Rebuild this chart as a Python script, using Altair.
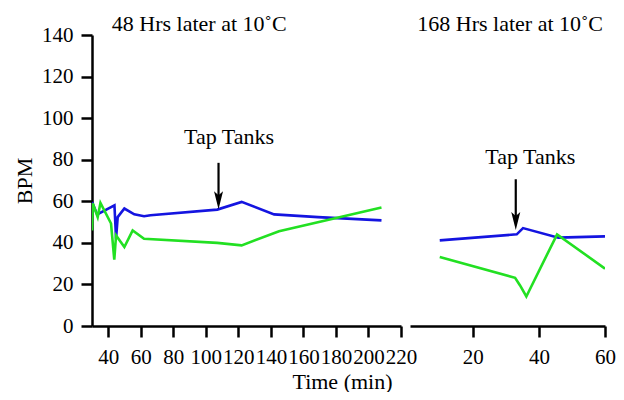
import altair as alt
import pandas as pd

# ---- data ----
left_time_blue = [30, 33.2, 43.8, 44.8, 45.8, 49.9, 56, 62, 66, 107, 122, 142, 169, 208]
left_bpm_blue = [59.7, 53.7, 58, 42, 52.4, 56.5, 53.7, 52.8, 53.3, 56, 59.7, 53.7, 52.4, 50.8]
left_time_green = [30, 30.5, 33.5, 35.2, 41.7, 43.7, 44.8, 49.9, 55, 62, 107, 122, 145, 208]
left_bpm_green = [46, 59, 52.4, 59.2, 49.3, 31.9, 43.6, 38, 46, 42, 40, 38.8, 45.6, 57]

right_time_blue = [10, 33.3, 35.2, 45.9, 60]
right_bpm_blue = [41.2, 44.1, 47.1, 42.5, 43.1]
right_time_green = [10, 32.8, 34.3, 36.2, 45.5, 60]
right_bpm_green = [33.2, 23.2, 19.5, 14.2, 44.1, 27.6]

left_ticks = [40, 60, 80, 100, 120, 140, 160, 180, 200, 220]
right_ticks = [20, 40, 60]
y_ticks = [0, 20, 40, 60, 80, 100, 120, 140]

titles = ["48 Hrs later at 10˚C", "168 Hrs later at 10˚C"]
# title anchor (time, bpm) in each panel's own scale
title_pos = [[42.2, 142.0], [3.2, 142.0]]
annotation = "Tap Tanks"
# arrow: time, top bpm, head bpm, text time, text bpm
left_arrow = [107.8, 78.5, 60.5, 114.3, 87.4]
right_arrow = [33.0, 70.6, 50.5, 37.4, 77.8]

FONT = "Liberation Serif"
BLUE = "#1414e0"
GREEN = "#22e022"
ARROW_SHAPE = "M -0.5 -1 L 0 1 L 0.5 -1 L 0 -0.55 Z"


def series_df(tb, bb, tg, bg):
    rows = [{"time": t, "bpm": b, "series": "blue"} for t, b in zip(tb, bb)]
    rows += [{"time": t, "bpm": b, "series": "green"} for t, b in zip(tg, bg)]
    return pd.DataFrame(rows)


left_df = series_df(left_time_blue, left_bpm_blue, left_time_green, left_bpm_green)
right_df = series_df(right_time_blue, right_bpm_blue, right_time_green, right_bpm_green)

y_scale = alt.Scale(domain=[0, 140], nice=False, zero=False)
color_scale = alt.Scale(domain=["blue", "green"], range=[BLUE, GREEN])

H = 291


def panel(df, xdomain, xticks, arrow, title, tpos, width, show_y):
    xs = alt.Scale(domain=xdomain, nice=False, zero=False)
    if show_y:
        yax = alt.Axis(values=y_ticks, title="BPM", titleFont=FONT, titleFontSize=22,
                       titleFontWeight="normal", titleColor="black", titleAngle=-90,
                       titleX=-68, titleY=H / 2, titleAlign="center", titleBaseline="middle",
                       labelPadding=8, labelOverlap=False)
        xax = alt.Axis(values=xticks, title="Time (min)", titleFont=FONT, titleFontSize=22,
                       titleFontWeight="normal", titleColor="black", titleX=250,
                       titleY=62, titleAlign="center", titleBaseline="alphabetic",
                       labelPadding=9, labelFlush=False, labelOverlap=False)
    else:
        yax = None
        xax = alt.Axis(values=xticks, title=None, labelPadding=9, labelFlush=False,
                       labelOverlap=False)

    def X(field):
        return alt.X(field, type="quantitative", scale=xs, axis=xax)

    def Y(field):
        return alt.Y(field, type="quantitative", scale=y_scale, axis=yax)

    lines = alt.Chart(df).mark_line(strokeWidth=2.6, clip=True).encode(
        x=X("time"),
        y=Y("bpm"),
        color=alt.Color("series:N", scale=color_scale, legend=None),
        detail="series:N",
        order="time:Q",
    )
    adf = pd.DataFrame([{"time": arrow[0], "top": arrow[1], "head": arrow[2],
                         "tt": arrow[3], "tb": arrow[4], "label": annotation,
                         "ttx": tpos[0], "tty": tpos[1], "title": title}])
    rule = alt.Chart(adf).mark_rule(color="black", strokeWidth=2.2).encode(
        x=X("time"), y=Y("top"), y2="head:Q")
    head = alt.Chart(adf).mark_point(shape=ARROW_SHAPE, size=324, filled=True,
                                     color="black", opacity=1).encode(
        x=X("time"), y=Y("head"))
    txt = alt.Chart(adf).mark_text(font=FONT, fontSize=22, color="black",
                                   baseline="alphabetic", align="center").encode(
        x=X("tt"), y=Y("tb"), text="label:N")
    ttl = alt.Chart(adf).mark_text(font=FONT, fontSize=22, color="black",
                                   baseline="alphabetic", align="left").encode(
        x=X("ttx"), y=Y("tty"), text="title:N")
    return alt.layer(lines, rule, head, txt, ttl).properties(width=width, height=H)


left = panel(left_df, [30, 220], left_ticks, left_arrow, titles[0], title_pos[0], 309, True)
right = panel(right_df, [1, 60], right_ticks, right_arrow, titles[1], title_pos[1], 195, False)

chart = alt.hconcat(left, right, spacing=9, bounds="flush").resolve_scale(
    x="independent", y="independent"
).properties(
    padding={"left": 5, "top": 4, "right": 0, "bottom": 0}
).configure_view(stroke=None).configure_axis(
    grid=False, domainColor="black", domainWidth=2.5, tickColor="black",
    tickWidth=2.5, tickSize=11, labelFont=FONT, labelFontSize=21,
    labelColor="black",
)

chart.save("out.html", embed_options={"renderer": "svg", "actions": False})
